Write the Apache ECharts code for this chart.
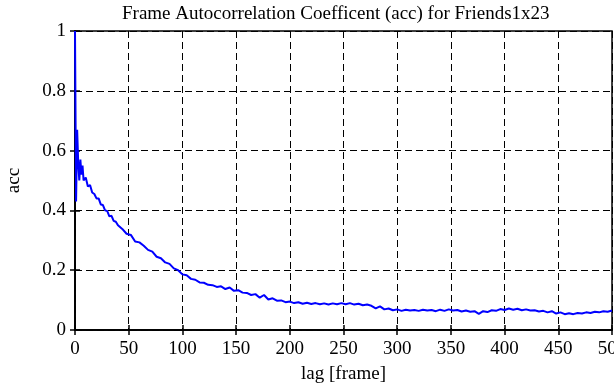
<!DOCTYPE html>
<html>
<head>
<meta charset="utf-8">
<script src="https://cdn.jsdelivr.net/npm/echarts@6/dist/echarts.min.js"></script>
<style>
  html, body { margin: 0; padding: 0; background: #fff; }
  #chart { width: 614px; height: 385px; }
</style>
</head>
<body>
<div id="chart"></div>
<script>
// lag in frames
const lags = [0, 1, 2, 3, 4, 5, 6, 7, 8, 10, 12, 14, 16, 18, 20, 22, 24, 26, 28, 30, 32, 34, 36, 38, 40,
  44, 48, 52, 56, 60, 64, 68, 72, 76, 80, 84, 88, 92, 96, 100, 104, 108, 112, 116, 120, 124, 128,
  132, 136, 140, 144, 148, 152, 156, 160, 164, 168, 172, 176, 180, 184, 188, 192, 196, 200,
  204, 208, 212, 216, 220, 224, 228, 232, 236, 240, 244, 248, 252, 256, 260, 264, 268, 272,
  276, 280, 284, 288, 292, 296, 300, 304, 308, 312, 316, 320, 324, 328, 332, 336, 340, 344,
  348, 352, 356, 360, 364, 368, 372, 376, 380, 384, 388, 392, 396, 400, 404, 408, 412, 416,
  420, 424, 428, 432, 436, 440, 444, 448, 452, 456, 460, 464, 468, 472, 476, 480, 484, 488,
  492, 496, 500];
// autocorrelation coefficient
const acc = [1.0, 0.43, 0.67, 0.56, 0.5, 0.57, 0.52, 0.55, 0.5, 0.51, 0.48, 0.485, 0.46, 0.455, 0.44, 0.44, 0.42, 0.418, 0.4, 0.398, 0.38, 0.382, 0.365, 0.362, 0.35,
  0.338, 0.322, 0.318, 0.296, 0.293, 0.282, 0.268, 0.262, 0.245, 0.24, 0.226, 0.221, 0.206, 0.2, 0.186, 0.183, 0.171, 0.168, 0.159, 0.158, 0.151, 0.15,
  0.144, 0.146, 0.137, 0.142, 0.131, 0.133, 0.125, 0.124, 0.117, 0.12, 0.108, 0.117, 0.102, 0.106, 0.098, 0.099, 0.093, 0.095,
  0.09, 0.093, 0.088, 0.091, 0.087, 0.09, 0.086, 0.089, 0.085, 0.089, 0.086, 0.09, 0.086, 0.09, 0.085, 0.088, 0.083, 0.085,
  0.081, 0.072, 0.079, 0.069, 0.072, 0.066, 0.069, 0.064, 0.068, 0.065, 0.067, 0.064, 0.068, 0.065, 0.067, 0.063, 0.068, 0.064,
  0.069, 0.065, 0.067, 0.062, 0.065, 0.061, 0.063, 0.054, 0.063, 0.06, 0.066, 0.064, 0.07, 0.067, 0.072, 0.068, 0.071, 0.066,
  0.069, 0.065, 0.066, 0.062, 0.064, 0.059, 0.063, 0.055, 0.059, 0.053, 0.056, 0.053, 0.057, 0.055, 0.059, 0.057, 0.061, 0.059,
  0.063, 0.061, 0.065];

const serif = 'Liberation Serif';
const dashed = { color: '#000', width: 1, type: [7, 4] };
const black = { color: '#000', width: 1.5 };

const points = lags.map((l, i) => [l, acc[i]]);

const chart = echarts.init(document.getElementById('chart'));
chart.setOption({
  animation: false,
  backgroundColor: '#fff',
  title: {
    text: 'Frame Autocorrelation Coefficent (acc) for Friends1x23',
    left: 117,
    top: 0,
    textStyle: { fontFamily: serif, fontSize: 19, fontWeight: 'normal', color: '#000' }
  },
  grid: {
    left: 75, right: 2, top: 31, bottom: 55,
    outerBoundsMode: 'none',
    containLabel: false,
    show: true, borderColor: '#000', borderWidth: 1.5
  },
  xAxis: [{
    type: 'value', min: 0, max: 500, interval: 50,
    name: 'lag [frame]', nameLocation: 'middle', nameGap: 35,
    nameTextStyle: { fontFamily: serif, fontSize: 19, color: '#000' },
    axisLine: { lineStyle: black },
    axisTick: { inside: true, length: 5, lineStyle: black },
    axisLabel: { fontFamily: serif, fontSize: 19, color: '#000', margin: 10 },
    splitLine: { show: true, lineStyle: dashed }
  }, {
    type: 'value', min: 0, max: 500, interval: 50, position: 'top',
    axisLine: { lineStyle: black },
    axisTick: { inside: true, length: 5, lineStyle: black },
    axisLabel: { show: false },
    splitLine: { show: false }
  }],
  yAxis: [{
    type: 'value', min: 0, max: 1, interval: 0.2,
    name: 'acc', nameLocation: 'middle', nameGap: 51,
    nameTextStyle: { fontFamily: serif, fontSize: 19, color: '#000' },
    axisLine: { lineStyle: black },
    axisTick: { inside: true, length: 5, lineStyle: black },
    axisLabel: { fontFamily: serif, fontSize: 19, color: '#000', margin: 9 },
    splitLine: { show: true, lineStyle: dashed }
  }, {
    type: 'value', min: 0, max: 1, interval: 0.2, position: 'right',
    axisLine: { show: true, lineStyle: black },
    axisTick: { show: true, inside: true, length: 5, lineStyle: black },
    axisLabel: { show: false },
    splitLine: { show: false }
  }],
  series: [{
    type: 'line',
    data: points,
    showSymbol: false,
    lineStyle: { color: '#0000ff', width: 2 },
    itemStyle: { color: '#0000ff' },
    z: 5
  }]
});
</script>
</body>
</html>
